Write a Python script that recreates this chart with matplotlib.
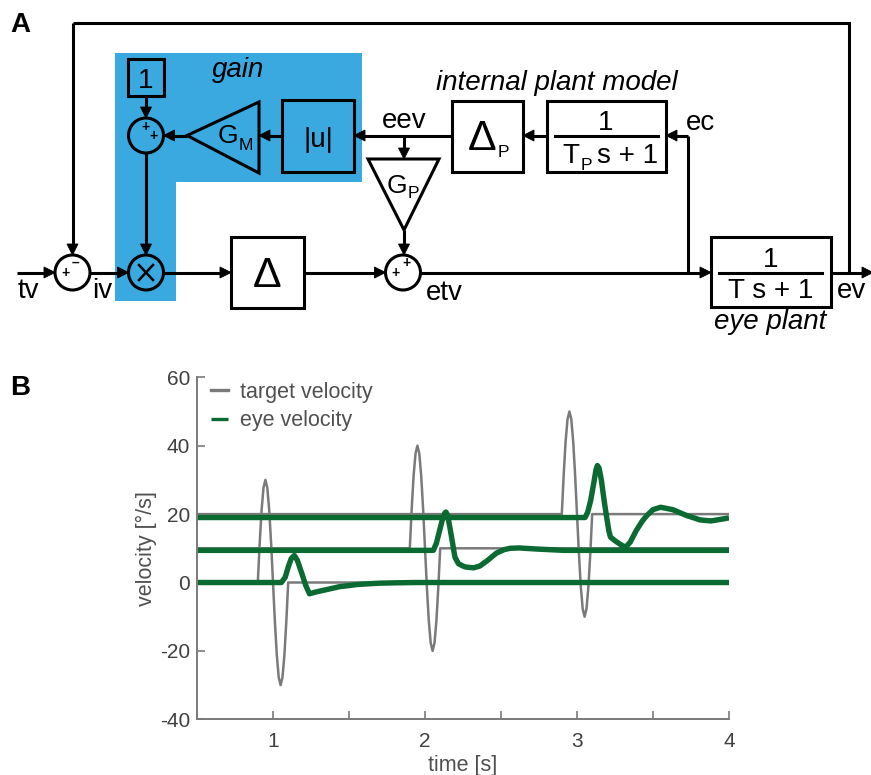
import matplotlib.pyplot as plt
from matplotlib.patches import Rectangle, Circle, Polygon

plt.rcParams['font.family'] = ['Liberation Sans', 'DejaVu Sans']
plt.rcParams['axes.unicode_minus'] = False

# ---- panel B: velocity traces ----
pulse_offsets = [0, 0.0125, 0.025, 0.0375, 0.05, 0.0625, 0.075, 0.0875, 0.1,
                 0.1125, 0.125, 0.1375, 0.15, 0.1625, 0.175, 0.1875, 0.2]
pulse_shape = [0, 11.5, 21.2, 27.7, 30, 27.7, 21.2, 11.5, 0,
               -11.5, -21.2, -27.7, -30, -27.7, -21.2, -11.5, 0]
pulse_onsets = [0.9, 1.9, 2.9]
target_base = [0, 10, 20]
t_start, t_end = 0.5, 4.0

eye1_t = [0.5, 1.055, 1.08, 1.10, 1.12, 1.14, 1.16, 1.19, 1.215, 1.24, 1.28, 1.33,
          1.39, 1.44, 1.50, 1.55, 1.62, 1.70, 1.80, 1.95, 4.0]
eye1_v = [0, 0, 1.5, 4.5, 7.0, 7.9, 6.5, 2.6, -0.8, -3.3, -2.8, -2.3,
          -1.7, -1.2, -0.9, -0.6, -0.4, -0.2, -0.1, 0, 0]

eye2_t = [0.5, 2.055, 2.075, 2.095, 2.115, 2.13, 2.138, 2.15, 2.17, 2.197, 2.22, 2.25,
          2.27, 2.32, 2.36, 2.41, 2.47, 2.52, 2.56, 2.62, 2.73, 2.91, 4.0]
eye2_v = [9.4, 9.4, 11.5, 15, 18.5, 20.3, 20.6, 19.5, 14.5, 7.4, 5.5, 4.8,
          4.5, 4.3, 4.8, 6.4, 8.6, 9.6, 10.0, 10.1, 9.8, 9.4, 9.4]

eye3_t = [0.5, 3.053, 3.07, 3.09, 3.11, 3.125, 3.134, 3.145, 3.16, 3.18, 3.195, 3.21,
          3.22, 3.25, 3.29, 3.32, 3.35, 3.39, 3.43, 3.46, 3.50, 3.55, 3.63, 3.72,
          3.81, 3.88, 3.95, 4.0]
eye3_v = [19, 19, 20.5, 24, 29, 33, 34.2, 33.5, 30, 23.5, 19.1, 15,
          13.3, 12.2, 11.0, 10.3, 11.8, 15.2, 18.0, 19.6, 21.3, 22.0, 21.3, 19.6,
          18.3, 18.0, 18.5, 18.9]

eye_t = [eye1_t, eye2_t, eye3_t]
eye_v = [eye1_v, eye2_v, eye3_v]

x_ticks = [1, 1.5, 2, 2.5, 3, 3.5, 4]
x_ticklabels = ['1', '', '2', '', '3', '', '4']
y_ticks = [-40, -20, 0, 20, 40, 60]

GRAY = '#7a7a7a'
GREEN = '#0b6a31'
BLUE = '#39a9e0'
LW = 2.2
FS = 20      # diagram label size
FSUB = 12.5  # diagram subscript size
FP = 15.5    # plot text size

fig = plt.figure(figsize=(8.71, 7.75), dpi=100)

# ---- panel A: block diagram drawn in pixel units ----
d = fig.add_axes([0, 0, 1, 1])
d.set_xlim(0, 871)
d.set_ylim(775, 0)
d.axis('off')


def line(xs, ys):
    d.plot(xs, ys, color='k', lw=LW, solid_capstyle='butt', solid_joinstyle='miter')


def arrow(x0, y0, x1, y1, head=11, half=5.5):
    dx, dy = x1 - x0, y1 - y0
    n = (dx * dx + dy * dy) ** 0.5
    ux, uy = dx / n, dy / n
    bx, by = x1 - ux * head, y1 - uy * head
    line([x0, bx + ux], [y0, by + uy])
    d.add_patch(Polygon([(x1, y1), (bx - uy * half, by + ux * half),
                         (bx + uy * half, by - ux * half)],
                        closed=True, fc='k', ec='k', lw=0.6))


def box(x0, y0, x1, y1):
    d.add_patch(Rectangle((x0, y0), x1 - x0, y1 - y0, fc='none', ec='k', lw=LW))


def summer(cx, cy, r=17.5):
    d.add_patch(Circle((cx, cy), r, fc='none', ec='k', lw=LW))


def sign(x, y, s):
    d.text(x, y, s, fontsize=10, fontweight='bold', ha='center', va='center')


def label(x, y, s, size=FS, **kw):
    d.text(x, y, s, fontsize=size, ha='center', va='baseline', **kw)


# gain region
d.add_patch(Polygon([(115, 52.5), (362, 52.5), (362, 181.5), (176, 181.5),
                     (176, 301), (115, 301)], closed=True, fc=BLUE, ec='none'))

Y0 = 272.5
# outer feedback loop
line([849, 849, 72.5], [Y0, 22.5, 22.5])
arrow(72.5, 22.5, 72.5, Y0 - 17.5)

# main forward path
arrow(17, Y0, 55, Y0)
summer(72.5, Y0)
sign(65, Y0 + 0.5, '+')
sign(75.5, Y0 - 10, '\u2013')
arrow(90, Y0, 128.5, Y0)
summer(146, Y0)
d.plot([139, 153], [Y0 - 7.5, Y0 + 7.5], color='k', lw=1.8)
d.plot([139, 153], [Y0 + 7.5, Y0 - 7.5], color='k', lw=1.8)
arrow(163.5, Y0, 231, Y0)
box(231, 237, 304, 308)
label(267.5, 287, '\u0394', size=31)
arrow(304, Y0, 385.5, Y0)
summer(403, Y0)
sign(395.5, Y0 + 0.5, '+')
sign(406, Y0 - 9.5, '+')
arrow(420.5, Y0, 711, Y0)

# eye plant
box(711, 237, 831, 307)
label(771, 267, '1')
d.plot([719, 822], [272.5, 272.5], color='k', lw=LW)
label(771, 298, 'T s + 1')
arrow(831, Y0, 873, Y0)
label(770, 329, 'eye plant', style='italic')

# efference copy branch and internal plant model
YM = 135.5
line([688, 688], [Y0, YM])
arrow(688, YM, 666, YM)
box(547, 100.5, 666, 171.5)
label(606, 130, '1')
d.plot([555, 658], [YM, YM], color='k', lw=LW)
d.text(562, 163, 'T', fontsize=FS, ha='left', va='baseline')
d.text(581, 170, 'P', fontsize=FSUB, ha='left', va='baseline')
d.text(597, 163, 's + 1', fontsize=FS, ha='left', va='baseline')
arrow(547, YM, 523, YM)
box(452, 100.5, 523, 171.5)
label(482.5, 150, '\u0394', size=31)
d.text(498, 157, 'P', fontsize=FSUB, ha='left', va='baseline')
label(557, 90, 'internal plant model', style='italic')

# estimated eye velocity into gain and G_P
arrow(452, YM, 354, YM)
arrow(404, YM, 404, 159)
d.add_patch(Polygon([(368, 159), (439, 159), (404, 230)], closed=True,
                    fc='none', ec='k', lw=LW, joinstyle='miter'))
d.text(397, 193, 'G', fontsize=19, ha='center', va='baseline')
d.text(407.5, 198, 'P', fontsize=FSUB, ha='left', va='baseline')
arrow(404, 230, 404, Y0 - 17.5)

# gain computation
box(282, 100, 354, 172)
label(318, 147, '|u|', size=20)
arrow(282, YM, 259, YM)
d.add_patch(Polygon([(259, 102), (259, 173), (187, YM)], closed=True,
                    fc='none', ec='k', lw=LW, joinstyle='miter'))
d.text(228, 143, 'G', fontsize=19, ha='center', va='baseline')
d.text(239, 150, 'M', fontsize=FSUB, ha='left', va='baseline')
arrow(187, YM, 163.5, YM)
summer(146, YM)
sign(145, 127, '+')
sign(153.5, 136, '+')
box(128, 59, 164, 96)
label(146, 88, '1')
arrow(146, 96, 146, YM - 17.5)
arrow(146, YM + 17.5, 146, Y0 - 17.5)
label(238, 77, 'gain', style='italic')

# signal names
label(28, 298, 'tv')
label(102, 298, 'iv')
label(404.5, 128, 'eev')
label(700, 130, 'ec')
label(444, 300, 'etv')
label(851, 298, 'ev')

d.text(10, 32, 'A', fontsize=20, fontweight='bold', ha='left', va='baseline')
d.text(10, 395, 'B', fontsize=20, fontweight='bold', ha='left', va='baseline')

# ---- panel B axes ----
ax = fig.add_axes([197 / 871, 1 - 719.3 / 775, 532 / 871, 342 / 775])
ax.set_facecolor('none')

for onset, base in zip(pulse_onsets, target_base):
    t = [t_start] + [onset + o for o in pulse_offsets] + [t_end]
    v = [base] + [base + s for s in pulse_shape] + [base]
    ax.plot(t, v, color=GRAY, lw=1.8, solid_joinstyle='round',
            label='target velocity' if base == target_base[0] else None)

for i, (t, v) in enumerate(zip(eye_t, eye_v)):
    ax.plot(t, v, color=GREEN, lw=3.9, solid_capstyle='butt', solid_joinstyle='round',
            label='eye velocity' if i == 0 else None)

ax.set_xlim(t_start, t_end)
ax.set_ylim(-40, 60)
ax.set_xticks(x_ticks, labels=x_ticklabels)
ax.set_yticks(y_ticks)
for side in ['top', 'right']:
    ax.spines[side].set_visible(False)
for side in ['left', 'bottom']:
    ax.spines[side].set_color(GRAY)
    ax.spines[side].set_linewidth(1.4)
ax.tick_params(direction='in', length=6, width=1.2, color=GRAY,
               labelsize=15, labelcolor='#404040', pad=5)
ax.tick_params(axis='x', pad=9)
ax.set_xlabel('time [s]', fontsize=FP, color='#505050', labelpad=3)
ax.set_ylabel('velocity [\u00b0/s]', fontsize=FP, color='#505050', labelpad=2)

leg = ax.legend(loc='upper left', bbox_to_anchor=(0.026, 0.987), frameon=False,
                fontsize=FP, handlelength=0.8, handletextpad=0.55,
                labelspacing=0.34, borderpad=0, borderaxespad=0)
for txt in leg.get_texts():
    txt.set_color('#505050')
for h in leg.get_lines():
    h.set_linewidth(2.4)

fig.savefig('out.png', dpi=100)
